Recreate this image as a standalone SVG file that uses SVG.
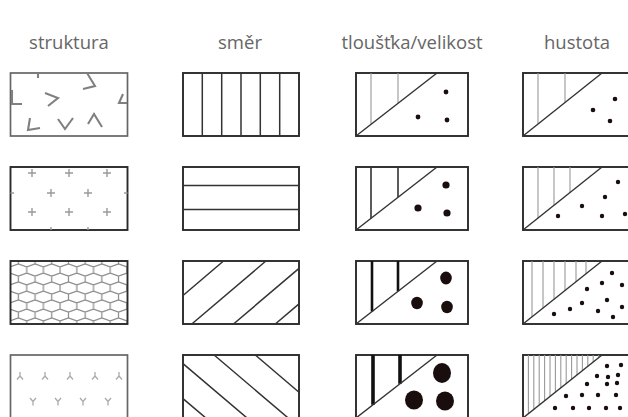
<svg xmlns="http://www.w3.org/2000/svg" width="628" height="417" viewBox="0 0 628 417">
<style>
.hdr{font-family:"Open Sans","Liberation Sans",sans-serif;font-size:18.5px;fill:#666;text-anchor:middle}
.box{fill:#fff;stroke:#2a2a2a;stroke-width:1.9}
.boxn{fill:none;stroke:#2a2a2a;stroke-width:1.9}
.boxl{fill:#fff;stroke:#666;stroke-width:1.7}
.mark{fill:none;stroke:#808080;stroke-width:2.1;stroke-linejoin:miter}
.plus{fill:none;stroke:#9a9a9a;stroke-width:1.4}
.ys{fill:none;stroke:#aaa;stroke-width:1.3}
.ln{fill:none;stroke:#333;stroke-width:1.5}
.diag{fill:none;stroke:#333;stroke-width:1.4}
.thin{fill:none;stroke:#999;stroke-width:1.1}
.v2{fill:none;stroke:#333;stroke-width:1.6}
.v3{fill:none;stroke:#111;stroke-width:2.6}
.v4{fill:none;stroke:#111;stroke-width:3.6}
.dot{fill:#1a0d0d}
</style>
<defs>
<pattern id="hex" patternUnits="userSpaceOnUse" x="10" y="261" width="16.7" height="18">
<path d="M0,6 L8.35,3 L16.7,6 M8.35,0 L8.35,3 M8.35,15 L8.35,18 M0,6 L0,12 M16.7,6 L16.7,12 M0,12 L8.35,15 L16.7,12" fill="none" stroke="#8a8a8a" stroke-width="1.2"/>
</pattern>
<path id="plus" d="M-4,0 H4 M0,-4 V4"/>
<path id="yup" d="M0,-4 V0 M0,0 L-3,3.5 M0,0 L3,3.5"/>
<path id="ydn" d="M-3,-4 L0,-0.5 L3,-4 M0,-0.5 V3.5"/>
</defs>

<g id="headers">
<text class="hdr" x="69" y="49">struktura</text>
<text class="hdr" x="240" y="49">směr</text>
<text class="hdr" x="412" y="49">tloušťka/velikost</text>
<text class="hdr" x="577" y="49">hustota</text>
</g>

<!-- column 1: struktura -->
<g id="struktura-1">
<rect class="boxl" x="10.5" y="73" width="117" height="63"/>
<path class="mark" d="M38,73 L38,78 M87,73 L95,86 L83,89 M12,90 L12,104 L22,104 M45,93 L58,98 L48,106 M123,94 L119,103 L127,103 M30,118 L28,130 L40,128 M58,119 L65,129 L73,118 M88,124 L94,114 L102,127"/>
</g>
<g id="struktura-2">
<rect class="box" x="10.5" y="167" width="117" height="63"/>
<g class="plus">
<use href="#plus" x="32" y="173"/><use href="#plus" x="69" y="173"/><use href="#plus" x="107" y="173"/>
<use href="#plus" x="51" y="193"/><use href="#plus" x="88" y="193"/>
<use href="#plus" x="32" y="212"/><use href="#plus" x="69" y="212"/><use href="#plus" x="107" y="212"/>
<path d="M10.5,193 H14 M127.5,193 H124 M51,230 V227 M88,230 V227"/>
</g>
</g>
<g id="struktura-3">
<rect x="10.5" y="261" width="117" height="63" fill="url(#hex)"/>
<rect class="boxn" x="10.5" y="261" width="117" height="63"/>
</g>
<g id="struktura-4">
<rect class="boxl" x="10.5" y="355" width="117" height="64"/>
<g class="ys">
<use href="#yup" x="20" y="376"/><use href="#yup" x="45" y="376"/><use href="#yup" x="70" y="376"/><use href="#yup" x="95" y="376"/><use href="#yup" x="119" y="376"/>
<use href="#ydn" x="33" y="402"/><use href="#ydn" x="58" y="402"/><use href="#ydn" x="83" y="402"/><use href="#ydn" x="108" y="402"/>
</g>
</g>

<!-- column 2: směr -->
<g id="smer-1">
<rect class="box" x="183" y="73" width="116" height="63"/>
<path class="ln" d="M202.3,73 V136 M221.7,73 V136 M241,73 V136 M260.3,73 V136 M279.7,73 V136"/>
</g>
<g id="smer-2">
<rect class="box" x="183" y="167" width="116" height="63"/>
<path class="ln" d="M183,185.5 H299 M183,209.5 H299"/>
</g>
<g id="smer-3">
<rect class="box" x="183" y="261" width="116" height="63"/>
<path class="ln" d="M183,295.5 L223.5,261 M191.8,324 L265.9,261 M233.5,324 L299,268.4 M275.3,324 L299,303.9"/>
</g>
<g id="smer-4">
<rect class="box" x="183" y="355" width="116" height="64"/>
<path class="ln" d="M255.3,355 L299,392.2 M214.1,355 L299,427.2 M183,363.6 L250,420.5 M183,398.6 L208,419.8"/>
</g>

<!-- column 3: tloušťka/velikost -->
<g id="tloustka-1">
<rect class="box" x="356" y="73" width="112" height="63"/>
<path class="thin" d="M371,73 V124.3 M398,73 V103.3"/>
<path class="diag" d="M356,136 L437,73"/>
<circle class="dot" cx="446" cy="92" r="2.4"/><circle class="dot" cx="418" cy="117" r="2.4"/><circle class="dot" cx="447" cy="120" r="2.4"/>
</g>
<g id="tloustka-2">
<rect class="box" x="356" y="167" width="112" height="63"/>
<path class="v2" d="M371,167 V218.3 M398,167 V197.3"/>
<path class="diag" d="M356,230 L437,167"/>
<circle class="dot" cx="446" cy="185" r="3.6"/><circle class="dot" cx="418" cy="208" r="3.6"/><circle class="dot" cx="447" cy="213" r="3.6"/>
</g>
<g id="tloustka-3">
<rect class="box" x="356" y="261" width="112" height="63"/>
<path class="v3" d="M372,261 V311.6 M398,261 V291.3"/>
<path class="diag" d="M356,324 L437,261"/>
<ellipse class="dot" cx="446" cy="278" rx="5.8" ry="6.4"/><ellipse class="dot" cx="417" cy="303" rx="5.8" ry="6.2"/><ellipse class="dot" cx="447" cy="307" rx="5.8" ry="6.2"/>
</g>
<g id="tloustka-4">
<rect class="box" x="356" y="355" width="112" height="64"/>
<path class="v4" d="M373,355 V404.8 M400,355 V383.8"/>
<path class="diag" d="M356,418 L437,355"/>
<ellipse class="dot" cx="442" cy="373" rx="9" ry="10"/><ellipse class="dot" cx="414" cy="400" rx="9" ry="9.5"/><ellipse class="dot" cx="445" cy="401" rx="9" ry="9.5"/>
</g>

<!-- column 4: hustota -->
<g id="hustota-1">
<rect class="box" x="523" y="73" width="120" height="63"/>
<path class="thin" d="M538,73 V124 M565,73 V102.5"/>
<path class="diag" d="M523,136 L602,73"/>
<g class="dot"><circle cx="615" cy="99" r="2.3"/><circle cx="593" cy="110" r="2.3"/><circle cx="610" cy="121" r="2.3"/></g>
</g>
<g id="hustota-2">
<rect class="box" x="523" y="167" width="120" height="63"/>
<path class="thin" d="M538,167 V218 M554,167 V205.3 M570,167 V192.5"/>
<path class="diag" d="M523,230 L602,167"/>
<g class="dot"><circle cx="618" cy="182" r="2.2"/><circle cx="605" cy="197" r="2.2"/><circle cx="582" cy="206" r="2.2"/><circle cx="558" cy="216" r="2.2"/><circle cx="602" cy="216" r="2.2"/><circle cx="625" cy="214" r="2.2"/></g>
</g>
<g id="hustota-3">
<rect class="box" x="523" y="261" width="120" height="63"/>
<path class="thin" d="M532,261 V316.8 M543,261 V308 M554,261 V299.3 M565,261 V290.5 M576,261 V281.7 M586,261 V273.8"/>
<path class="diag" d="M523,324 L602,261"/>
<g class="dot"><circle cx="612" cy="273" r="2.2"/><circle cx="602" cy="283" r="2.2"/><circle cx="622" cy="285" r="2.2"/><circle cx="587" cy="289" r="2.2"/><circle cx="607" cy="300" r="2.2"/><circle cx="582" cy="303" r="2.2"/><circle cx="570" cy="309" r="2.2"/><circle cx="598" cy="311" r="2.2"/><circle cx="622" cy="307" r="2.2"/><circle cx="554" cy="314" r="2.2"/><circle cx="613" cy="317" r="2.2"/></g>
</g>
<g id="hustota-4">
<rect class="box" x="523" y="355" width="120" height="64"/>
<path class="thin" d="M528.4,355 V413.7 M533.8,355 V409.4 M539.2,355 V405.1 M544.6,355 V400.8 M550,355 V396.5 M555.4,355 V392.2 M560.8,355 V387.9 M566.2,355 V383.5 M571.6,355 V379.2 M577,355 V374.9 M582.4,355 V370.6 M587.8,355 V366.3 M593.2,355 V362 M598.6,355 V357.7"/>
<path class="diag" d="M523,418 L602,355"/>
<g class="dot"><circle cx="607" cy="366" r="2.2"/><circle cx="621" cy="365" r="2.2"/><circle cx="597" cy="376" r="2.2"/><circle cx="608" cy="377" r="2.2"/><circle cx="618" cy="375" r="2.2"/><circle cx="587" cy="384" r="2.2"/><circle cx="607" cy="384" r="2.2"/><circle cx="617" cy="383" r="2.2"/><circle cx="566" cy="396" r="2.2"/><circle cx="582" cy="395" r="2.2"/><circle cx="598" cy="395" r="2.2"/><circle cx="616" cy="395" r="2.2"/><circle cx="555" cy="408" r="2.2"/><circle cx="573" cy="408" r="2.2"/><circle cx="589" cy="408" r="2.2"/><circle cx="606" cy="408" r="2.2"/><circle cx="620" cy="408" r="2.2"/></g>
</g>
</svg>
